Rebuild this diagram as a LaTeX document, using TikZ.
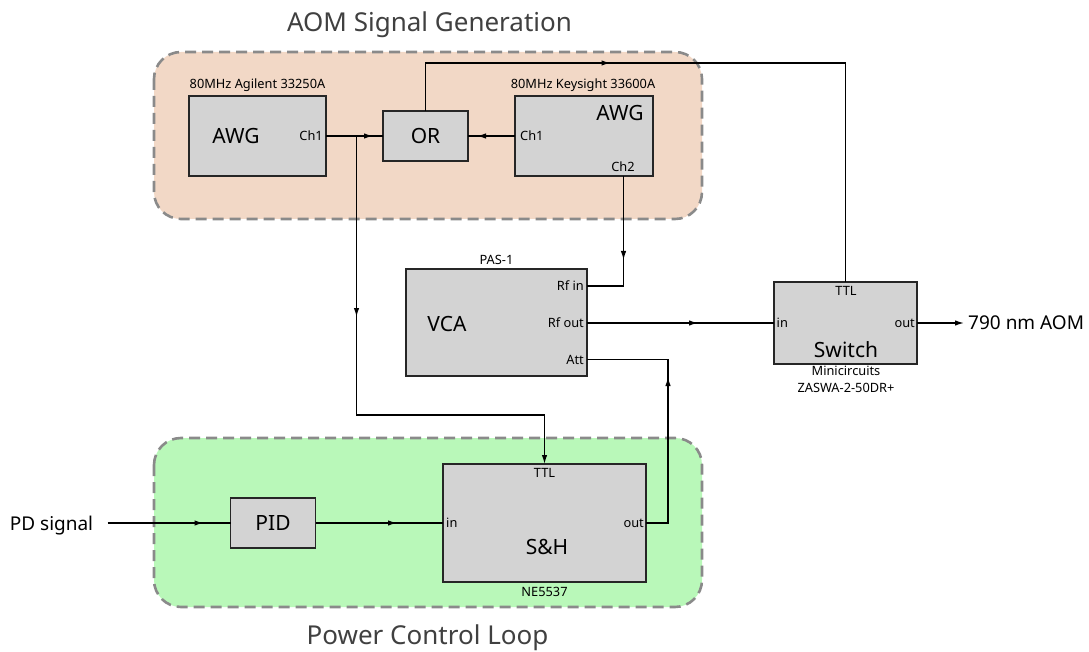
\documentclass[tikz,border=0pt]{standalone}
\usepackage{fontspec}
\setmainfont{Noto Sans}
\usetikzlibrary{arrows.meta,decorations.markings,calc}
\definecolor{peach}{RGB}{242,216,198}
\definecolor{mint}{RGB}{185,248,185}
\definecolor{boxgray}{RGB}{211,211,211}
\definecolor{dashgray}{RGB}{138,138,138}
\definecolor{titlegray}{RGB}{64,64,64}
\begin{document}
\begin{tikzpicture}[x=1pt,y=-1pt,
  group/.style={draw=dashgray, line width=2.6pt, dash pattern=on 11pt off 6pt, rounded corners=27pt},
  blk/.style={draw=black!85, fill=boxgray, line width=1.2pt, inner sep=0pt, outer sep=0pt},
  small/.style={font=\fontsize{12.8}{15}\selectfont, inner sep=0pt, text depth=0pt},
  big/.style={font=\fontsize{21}{25}\selectfont, inner sep=0pt, text depth=0pt},
  mid/.style={font=\fontsize{19}{23}\selectfont, inner sep=0pt, text depth=0pt},
  gtitle/.style={font=\fontsize{26}{30}\selectfont, text=titlegray, inner sep=0pt, text depth=0pt},
  conn/.style={line width=1.3pt},
  endtip/.style={-{Latex[length=9pt,width=5.5pt]}},
  tipat/.style={postaction={decorate}, decoration={markings, mark=at position #1 with {\arrow{Latex[length=9pt,width=5.5pt]}}}},
]
\useasboundingbox (0,0) rectangle (1089,652);

% groups
\draw[group, fill=peach] (154,52) rectangle (702,219);
\draw[group, fill=mint] (154,438) rectangle (702,607);
\node[gtitle] (t1) at (429.5,22) {AOM Signal Generation};
\node[gtitle] (t2) at (427.5,635) {Power Control Loop};

% blocks
\node[blk, minimum width=137, minimum height=80] (awg1) at (257.5,136) {};
\node[blk, minimum width=85, minimum height=50] (or) at (425.5,136) {};
\node[blk, minimum width=138, minimum height=80] (awg2) at (584,136) {};
\node[blk, minimum width=181, minimum height=107] (vca) at (496.5,322.5) {};
\node[blk, minimum width=143, minimum height=82] (sw) at (845.5,323) {};
\node[blk, minimum width=85, minimum height=50] (pid) at (273,523) {};
\node[blk, minimum width=203, minimum height=118] (sh) at (544.5,523) {};

% labels
\node[small] (lab1) at (257.5,83.5) {80MHz Agilent 33250A};
\node[small] (lab2) at (583,83.5) {80MHz Keysight 33600A};
\node[big] (awg1t) at (236,136) {AWG};
\node[small, anchor=east] (awg1c1) at (323,136) {Ch1};
\node[big] (ort) at (425.5,136) {OR};
\node[big] (awg2t) at (620,113) {AWG};
\node[small, anchor=west] (awg2c1) at (520,136) {Ch1};
\node[small] (awg2c2) at (623,166.5) {Ch2};
\node[small] (pas) at (496.5,260) {PAS-1};
\node[big] (vcat) at (447,324) {VCA};
\node[small, anchor=east] (rfint) at (584,286) {Rf in};
\node[small, anchor=east] (rfoutt) at (584,323) {Rf out};
\node[small, anchor=east] (attt) at (584,360) {Att};
\node[small] (swttl) at (846,291) {TTL};
\node[small, anchor=west] (swin) at (776.5,323) {in};
\node[small, anchor=east] (swout) at (915,323) {out};
\node[big] (swt) at (846,350) {Switch};
\node[small] (mc1) at (846,371) {Minicircuits};
\node[small] (mc2) at (846,387.5) {ZASWA-2-50DR+};
\node[mid, anchor=west] (aom) at (968,323) {790 nm AOM};
\node[mid] (pd) at (51.5,523) {PD signal};
\node[big] (pidt) at (273,523) {PID};
\node[small] (shttl) at (544.5,472.5) {TTL};
\node[small, anchor=west] (shin) at (446,523) {in};
\node[small, anchor=east] (shout) at (644,523) {out};
\node[big] (sht) at (547,547) {S\&H};
\node[small] (ne) at (544.5,592) {NE5537};

% coordinates
\coordinate (br) at (356.5,136);
\coordinate (brlow) at (356.5,415);
\coordinate (ttltop) at (845.5,63);
\coordinate (ch2) at (623.5,176);
\coordinate (rfin) at (587,286);
\coordinate (rfout) at (587,323);
\coordinate (att) at (587,359.5);
\coordinate (attcorner) at (668,523);
\coordinate (pdstart) at (107.5,523);

% connectors
\draw[conn, tipat=-10pt] (awg1.east) -- (or.west);
\draw[conn, tipat=-9pt] (awg2.west) -- (or.east);
\draw[conn, tipat=181pt, endtip] (br) -- (brlow) -| (sh.north);
\draw[conn, tipat=233pt] (or.north) |- (ttltop) -- (sw.north);
\draw[conn, tipat=84pt] (ch2) |- (rfin);
\draw[conn, tipat=111pt] (rfout) -- (sw.west);
\draw[conn, tipat=168pt] (sh.east) -- (attcorner) |- (att);
\draw[conn, tipat=-27pt] (pdstart) -- (pid.west);
\draw[conn, tipat=-46pt] (pid.east) -- (sh.west);
\draw[conn, endtip, shorten >=4pt] (sw.east) -- (aom.west);
\end{tikzpicture}
\end{document}
